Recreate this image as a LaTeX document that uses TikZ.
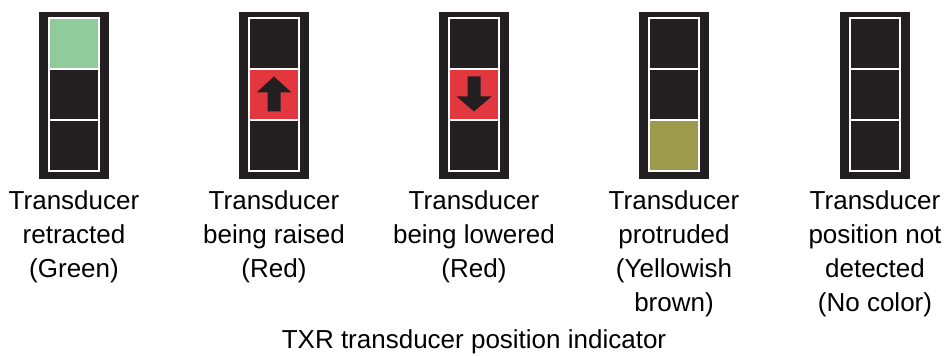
\documentclass[tikz,border=0pt]{standalone}
\usepackage{fontspec}
\setmainfont{Liberation Sans}
\usetikzlibrary{positioning}
\definecolor{cBlack}{HTML}{231F20}
\definecolor{cGreen}{HTML}{8FCB9B}
\definecolor{cRed}{HTML}{E2373F}
\definecolor{cOlive}{HTML}{9C9A4C}

\begin{document}
\begin{tikzpicture}[x=0.5pt, y=-0.5pt,
  frame/.style={fill=cBlack, minimum width=35pt, minimum height=83.5pt, inner sep=0pt},
  cell/.style={draw=white, line width=1pt, minimum width=25pt, minimum height=25.5pt, inner sep=0pt},
  statetext/.style={font=\fontsize{13}{17}\selectfont, align=center, inner sep=0pt}]
  \useasboundingbox (0,0) rectangle (948,356);
  % indicadores
  \foreach \i/\x/\lit/\col in {1/74/1/cGreen, 2/274/2/cRed, 3/474/2/cRed, 4/674/3/cOlive, 5/875/0/cBlack}{
    \node[frame] (f\i) at (\x,95.5) {};
    \foreach \j/\y in {1/43.5, 2/94.5, 3/145.5}{
      \ifnum\j=\lit
        \node[cell, fill=\col] (c\i-\j) at (\x,\y) {};
      \else
        \node[cell, fill=cBlack] (c\i-\j) at (\x,\y) {};
      \fi
    }
  }
  % setas
  \fill[cBlack, shift={(c2-2.center)}] (0,-18) -- (17.5,-2) -- (6.5,-2) -- (6.5,17)
    -- (-6.5,17) -- (-6.5,-2) -- (-17.5,-2) -- cycle;
  \fill[cBlack, shift={(c3-2.center)}] (0,17) -- (17.5,2) -- (6.5,2) -- (6.5,-18)
    -- (-6.5,-18) -- (-6.5,2) -- (-17.5,2) -- cycle;
  % textos
  \foreach \i/\txt in {1/{Transducer\\retracted\\(Green)},
                       2/{Transducer\\being raised\\(Red)},
                       3/{Transducer\\being lowered\\(Red)},
                       4/{Transducer\\protruded\\(Yellowish\\brown)},
                       5/{Transducer\\position not\\detected\\(No color)}}{
    \node[statetext, below=5.5pt of f\i] (t\i) {\txt};
  }
  \node[statetext, anchor=base] (title) at (474,349) {TXR transducer position indicator};
\end{tikzpicture}
\end{document}
